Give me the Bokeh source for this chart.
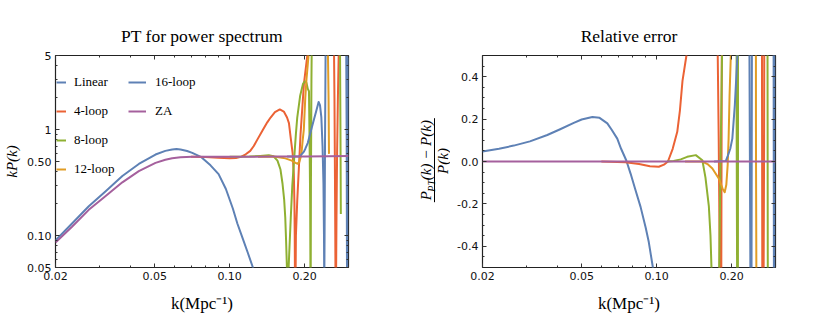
from bokeh.plotting import figure
from bokeh.models import (FixedTicker, CustomJSTickFormatter, LogAxis, LinearAxis,
                          Range1d, Label, Legend, LegendItem, Arrow)
from bokeh.layouts import row
from bokeh.core.properties import value
from bokeh.embed import file_html
from bokeh.resources import INLINE

# ---------------- data: left panel, k P(k) ----------------
k_za = [0.020, 0.0233, 0.0272, 0.0318, 0.0371, 0.0432, 0.0504, 0.0552, 0.0588, 0.0635,
        0.0708, 0.080, 0.100, 0.120, 0.150, 0.200, 0.250, 0.300]
kp_za = [0.086, 0.121, 0.175, 0.236, 0.318, 0.405, 0.485, 0.520, 0.537, 0.549,
         0.553, 0.553, 0.553, 0.554, 0.556, 0.558, 0.560, 0.562]

k_lin = [0.020, 0.0233, 0.0272, 0.0318, 0.0371, 0.0432, 0.0504, 0.0552, 0.0588, 0.0612,
         0.0635, 0.0675, 0.0708, 0.0766, 0.0838, 0.0903, 0.0966, 0.1030, 0.1074, 0.1130,
         0.1180, 0.1240, 0.1300]
kp_lin = [0.090, 0.130, 0.189, 0.262, 0.365, 0.474, 0.582, 0.630, 0.648, 0.655,
          0.648, 0.628, 0.603, 0.553, 0.460, 0.380, 0.275, 0.180, 0.130, 0.093,
          0.070, 0.050, 0.035]

k_4loop = [0.070, 0.080, 0.090, 0.100, 0.106, 0.111, 0.116, 0.121, 0.125, 0.129,
           0.1355, 0.1416, 0.146, 0.152, 0.159, 0.165, 0.170, 0.173, 0.1757, 0.179,
           0.181, 0.182, 0.1825, 0.183, 0.1838, 0.1845, 0.1868, 0.1926, 0.1987, 0.205,
           0.210, 0.262, 0.2635, 0.2645, 0.2655, 0.2662, 0.2672, 0.2685, 0.270, 0.272,
           0.275, 0.300]
kp_4loop = [0.553, 0.551, 0.543, 0.537, 0.540, 0.553, 0.585, 0.630, 0.700, 0.800,
            0.980, 1.170, 1.300, 1.460, 1.550, 1.480, 1.300, 1.150, 0.850, 0.600,
            0.380, 0.200, 0.100, 0.030, 0.030, 0.100, 0.213, 0.910, 2.700, 5.000,
            8.000, 8.000, 2.000, 0.500, 0.100, 0.030, 0.030, 0.150, 0.600, 2.000,
            8.000, 8.000]

k_8loop = [0.100, 0.110, 0.120, 0.1326, 0.1436, 0.150, 0.1556, 0.160, 0.163, 0.1655,
           0.1672, 0.1685, 0.1698, 0.1705, 0.1715, 0.1725, 0.176, 0.1785, 0.1845, 0.1868,
           0.192, 0.197, 0.2006, 0.2035, 0.206, 0.2082, 0.2096, 0.2105, 0.211, 0.2115,
           0.212, 0.213, 0.214, 0.277, 0.2785, 0.2795]
kp_8loop = [0.553, 0.553, 0.556, 0.565, 0.572, 0.560, 0.510, 0.420, 0.310, 0.220,
            0.149, 0.090, 0.050, 0.030, 0.030, 0.050, 0.150, 0.300, 0.910, 1.300,
            2.100, 2.700, 2.860, 2.750, 2.420, 2.300, 0.600, 0.200, 0.050, 0.030,
            0.300, 3.000, 10.00, 10.00, 1.000, 0.160]

k_12loop = [0.130, 0.145, 0.1526, 0.160, 0.1674, 0.1776, 0.1838, 0.1876, 0.1904, 0.1928,
            0.1945, 0.1965, 0.1985, 0.2012, 0.2035, 0.2055, 0.208, 0.210, 0.2475, 0.2495,
            0.2505]
kp_12loop = [0.554, 0.556, 0.554, 0.545, 0.535, 0.510, 0.485, 0.476, 0.495, 0.550,
             0.620, 0.800, 1.000, 2.000, 3.000, 3.900, 5.500, 8.000, 8.000, 2.000,
             0.590]

k_16loop = [0.170, 0.185, 0.1895, 0.1928, 0.1987, 0.2013, 0.206, 0.2114, 0.217, 0.222,
            0.2276, 0.2305, 0.2334, 0.236, 0.238, 0.2392, 0.2398, 0.2405, 0.2415, 0.243,
            0.2935, 0.295, 0.2958, 0.2965, 0.2975, 0.300]
kp_16loop = [0.557, 0.557, 0.558, 0.570, 0.620, 0.660, 0.750, 0.950, 1.200, 1.460,
             1.820, 1.700, 1.310, 0.700, 0.310, 0.100, 0.030, 0.100, 0.800, 8.000,
             8.000, 0.800, 0.050, 0.050, 0.800, 8.000]

# ---------------- data: right panel, relative error ----------------
k_za_err = [0.020, 0.300]
err_za = [0.0, 0.0]

k_lin_err = [0.020, 0.0233, 0.0267, 0.031, 0.0364, 0.041, 0.0465, 0.050, 0.0552, 0.059,
             0.0634, 0.066, 0.0695, 0.072, 0.0755, 0.0786, 0.082, 0.0862, 0.0903, 0.093,
             0.0966, 0.100]
err_lin = [0.047, 0.060, 0.075, 0.095, 0.125, 0.152, 0.182, 0.198, 0.210, 0.206,
           0.180, 0.150, 0.108, 0.060, 0.006, -0.057, -0.130, -0.214, -0.310, -0.380,
           -0.500, -0.620]

k_4loop_err = [0.060, 0.075, 0.085, 0.094, 0.102, 0.107, 0.111, 0.116, 0.121, 0.124,
               0.127, 0.1317, 0.135, 0.150, 0.159, 0.170, 0.1757, 0.1775, 0.179, 0.180,
               0.181, 0.1818, 0.1826, 0.185, 0.200, 0.260, 0.2645, 0.2655, 0.2662, 0.2672,
               0.2685, 0.270, 0.272, 0.275, 0.300]
err_4loop = [0.0, -0.003, -0.012, -0.022, -0.025, -0.015, 0.0, 0.060, 0.140, 0.240,
             0.380, 0.500, 0.800, 1.500, 1.800, 1.400, 0.550, 0.100, -0.400, -0.850,
             -0.950, -0.500, 0.500, 2.000, 5.000, 5.000, 0.800, -0.500, -0.950, -0.950,
             -0.700, 0.080, 2.600, 5.000, 5.000]

k_8loop_err = [0.110, 0.117, 0.125, 0.1326, 0.1436, 0.1526, 0.157, 0.162, 0.1645, 0.166,
               0.1685, 0.1705, 0.1745, 0.178, 0.1805, 0.1835, 0.187, 0.192, 0.2006, 0.2082,
               0.2096, 0.2105, 0.211, 0.2115, 0.212, 0.213, 0.215, 0.270, 0.277, 0.2785,
               0.2795, 0.2805, 0.300]
err_8loop = [0.0, 0.002, 0.010, 0.022, 0.030, 0.006, -0.075, -0.210, -0.350, -0.500,
             -0.840, -0.950, -0.900, -0.550, 0.0, 0.600, 1.400, 2.800, 4.100, 3.200,
             0.080, -0.640, -0.910, -0.930, -0.450, 4.400, 8.000, 8.000, 8.000, 0.800,
             -0.710, -3.000, -5.000]

k_12loop_err = [0.130, 0.1526, 0.160, 0.1674, 0.1776, 0.1838, 0.1876, 0.1904, 0.1928, 0.1945,
                0.1962, 0.1985, 0.201, 0.246, 0.2495, 0.2505, 0.2515, 0.2525, 0.300]
err_12loop = [0.0, 0.0, -0.012, -0.033, -0.080, -0.127, -0.145, -0.110, -0.017, 0.108,
              0.310, 0.500, 0.900, 10.00, 2.600, 0.060, -0.600, -3.000, -5.000]

k_16loop_err = [0.170, 0.1895, 0.1928, 0.1975, 0.2013, 0.206, 0.211, 0.215, 0.2276, 0.234,
                0.2358, 0.2368, 0.2378, 0.2388, 0.2396, 0.2404, 0.2412, 0.243, 0.2935, 0.2948,
                0.2956, 0.2964, 0.2972, 0.300]
err_16loop = [0.0, 0.002, 0.025, 0.060, 0.108, 0.266, 0.500, 0.900, 2.300, 1.200,
              0.500, 0.0, -0.500, -0.900, -0.950, -0.500, 0.500, 5.000, 5.000, 0.500,
              -0.500, -0.900, 0.500, 5.000]

# ---------------- ticks ----------------
x_major = [0.02, 0.05, 0.1, 0.2]
x_labels = ["0.02", "0.05", "0.10", "0.20"]
x_minor = [0.03, 0.04, 0.06, 0.07, 0.08, 0.09, 0.3]
yl_major = [0.05, 0.1, 0.5, 1.0, 5.0]
yl_labels = ["0.05", "0.10", "0.50", "1", "5"]
yl_minor = [0.06, 0.07, 0.08, 0.09, 0.2, 0.3, 0.4, 0.6, 0.7, 0.8, 0.9, 2.0, 3.0, 4.0]
yr_major = [-0.4, -0.2, 0.0, 0.2, 0.4]
yr_labels = ["-0.4", "-0.2", "0.0", "0.2", "0.4"]
yr_minor = [-0.45, -0.35, -0.3, -0.25, -0.15, -0.1, -0.05, 0.05, 0.1, 0.15, 0.25, 0.3, 0.35, 0.45]

series_names = ["Linear", "4-loop", "8-loop", "12-loop", "16-loop", "ZA"]
colors = ["#5E81B5", "#EB6235", "#8FB032", "#E19C24", "#5E81B5", "#A5609D"]

SERIF = "Liberation Serif"
SANS = "DejaVu Sans"
H = 323
FB = 267.3   # page y of the frames' bottom edge

FMT_CODE = """
let best = 0, bd = Infinity;
for (let i = 0; i < tv.length; i++) { const d = Math.abs(tv[i] - tick); if (d < bd) { bd = d; best = i; } }
return tl[best];
"""


def style_axis(ax, major, minor, labels=None):
    ax.ticker = FixedTicker(ticks=major, minor_ticks=minor)
    if labels is None:
        ax.formatter = CustomJSTickFormatter(code="return '';")
        ax.major_label_standoff = 0
        ax.major_label_text_font_size = "1px"
    else:
        ax.formatter = CustomJSTickFormatter(args=dict(tv=major, tl=labels), code=FMT_CODE)
        ax.major_label_text_font = SANS
        ax.major_label_text_font_size = "11px"
        ax.major_label_text_color = "#111111"
        ax.major_label_standoff = 4
    ax.axis_line_color = None
    ax.major_tick_in = 4
    ax.major_tick_out = 0
    ax.minor_tick_in = 2
    ax.minor_tick_out = 0
    ax.major_tick_line_color = "#333333"
    ax.minor_tick_line_color = "#333333"


def axis_title(ax, text, style="normal", size=17, standoff=11):
    ax.axis_label = text
    ax.axis_label_text_font = SERIF
    ax.axis_label_text_font_size = f"{size}px"
    ax.axis_label_text_font_style = style
    ax.axis_label_text_color = "black"
    ax.axis_label_standoff = standoff


def make_fig(y_type, y_rng, width, bl, br, title):
    p = figure(width=width, height=H, x_axis_type="log", y_axis_type=y_type,
               x_range=Range1d(0.02, 0.3), y_range=Range1d(*y_rng),
               output_backend="svg", toolbar_location=None, title=title)
    p.min_border_left = bl
    p.min_border_right = br
    p.min_border_top = 55
    p.min_border_bottom = 56
    p.grid.visible = False
    p.outline_line_color = "#222222"
    p.outline_line_width = 1.2
    p.background_fill_color = "white"
    p.border_fill_color = "white"
    p.title.align = "center"
    p.title.text_font = SERIF
    p.title.text_font_size = "17.5px"
    p.title.text_font_style = "normal"
    p.title.text_color = "black"
    p.title.standoff = 19
    return p


# ---------------- left panel ----------------
p1 = make_fig("log", (0.05, 5.0), 415, 55, 67, "PT for power spectrum")
style_axis(p1.xaxis[0], x_major, x_minor, x_labels)
style_axis(p1.yaxis[0], yl_major, yl_minor, yl_labels)
axis_title(p1.xaxis[0], "k(Mpc\u207b\u00b9)")
axis_title(p1.yaxis[0], "kP(k)", style="italic", size=15, standoff=4)
ax_top = LogAxis()
style_axis(ax_top, x_major, x_minor)
p1.add_layout(ax_top, "above")
ax_right = LogAxis()
style_axis(ax_right, yl_major, yl_minor)
p1.add_layout(ax_right, "right")

left_data = [(k_lin, kp_lin), (k_4loop, kp_4loop), (k_8loop, kp_8loop),
             (k_12loop, kp_12loop), (k_16loop, kp_16loop), (k_za, kp_za)]
rends = []
for (kx, vy), c in zip(left_data, colors):
    rends.append(p1.line(kx, vy, line_color=c, line_width=2, line_join="round"))

leg_common = dict(glyph_height=20, label_height=20, spacing=9, padding=0, margin=0,
                  border_line_color=None, background_fill_alpha=0, label_text_font=SERIF,
                  label_text_font_size="13px", label_text_color="black")
leg1 = Legend(items=[LegendItem(label=value(n), renderers=[r]) for n, r in zip(series_names[:4], rends[:4])],
              location=(1, 88), glyph_width=10, label_standoff=8, **leg_common)
leg2 = Legend(items=[LegendItem(label=value(n), renderers=[r]) for n, r in zip(series_names[4:], rends[4:])],
              location=(73, 146), glyph_width=18, label_standoff=9, **leg_common)
p1.add_layout(leg1)
p1.add_layout(leg2)

# ---------------- fraction label strip (y label of right panel) ----------------
LW = 35
fl = figure(width=LW, height=H, x_range=Range1d(0, 1), y_range=Range1d(0, 1),
            x_axis_location=None, y_axis_location=None, output_backend="svg",
            toolbar_location=None, min_border=0)
fl.min_border_left = 0
fl.min_border_right = 0
fl.grid.visible = False
fl.outline_line_color = None
fl.border_fill_color = "white"
fl.background_fill_color = "white"


def add_label(p, text, x, y, size, style="italic", angle=1.5707963, align="left", baseline="middle"):
    p.add_layout(Label(x=x, y=y, x_units="screen", y_units="screen", text=text,
                       text_font=SERIF, text_font_size=f"{size}px", text_font_style=style,
                       angle=angle, text_align=align, text_baseline=baseline,
                       text_color="black"))


add_label(fl, "P", 10.5, FB - 200.0, 15)
add_label(fl, "PT", 15.5, FB - 191.5, 10)
add_label(fl, "(k) \u2212 P(k)", 10.5, FB - 180.0, 15)
add_label(fl, "P(k)", 27.5, FB - 160.8, 15, align="center")
fl.add_layout(Arrow(x_start=19, y_start=FB - 202.0, x_end=19, y_end=FB - 118.0,
                    start_units="screen", end_units="screen", start=None, end=None,
                    line_color="black", line_width=1))

# ---------------- right panel ----------------
p2 = make_fig("linear", (-0.5, 0.5), 830 - 415 - LW, 482 - 415 - LW, 55, "Relative error")
style_axis(p2.xaxis[0], x_major, x_minor, x_labels)
style_axis(p2.yaxis[0], yr_major, yr_minor, yr_labels)
axis_title(p2.xaxis[0], "k(Mpc\u207b\u00b9)")
ax_top2 = LogAxis()
style_axis(ax_top2, x_major, x_minor)
p2.add_layout(ax_top2, "above")
ax_right2 = LinearAxis()
style_axis(ax_right2, yr_major, yr_minor)
p2.add_layout(ax_right2, "right")

right_data = [(k_lin_err, err_lin), (k_4loop_err, err_4loop), (k_8loop_err, err_8loop),
              (k_12loop_err, err_12loop), (k_16loop_err, err_16loop), (k_za_err, err_za)]
for (kx, ey), c in zip(right_data, colors):
    p2.line(kx, ey, line_color=c, line_width=2, line_join="round")

layout = row(p1, fl, p2)
open("out.html", "w").write(file_html(layout, INLINE))
